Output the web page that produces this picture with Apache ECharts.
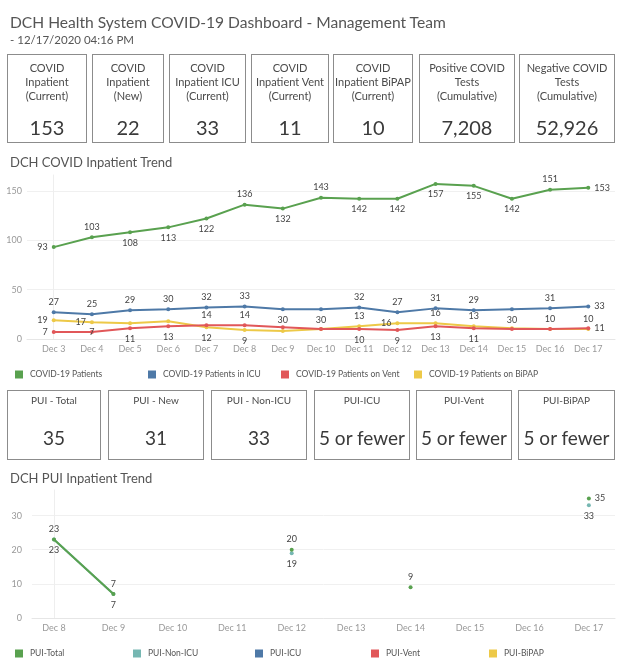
<!DOCTYPE html>
<html><head><meta charset="utf-8">
<script src="https://cdn.jsdelivr.net/npm/echarts@6/dist/echarts.min.js"></script>
<style>
html,body{margin:0;padding:0;background:#fff;}
#wrap{position:relative;width:624px;height:665px;overflow:hidden;font-family:Lato,'Open Sans',sans-serif;color:#555;}
#chart{position:absolute;left:0;top:0;width:624px;height:665px;}
.t{position:absolute;white-space:nowrap;}
.box{position:absolute;border:1px solid #8c8c8c;box-sizing:border-box;background:#fff;}
.box .lab{position:absolute;left:0;right:0;text-align:center;color:#4a4a4a;}
.box .val{position:absolute;left:0;right:0;text-align:center;color:#3a3a3a;}
</style></head>
<body><div id="wrap"><div id="chart"></div></div>
<script>
// ---------- data ----------
const pageTitle = 'DCH Health System COVID-19 Dashboard - Management Team';
const pageSubtitle = ' - 12/17/2020 04:16 PM';
const kpiLabels = [
  ['COVID','Inpatient','(Current)'],
  ['COVID','Inpatient','(New)'],
  ['COVID','Inpatient ICU','(Current)'],
  ['COVID','Inpatient Vent','(Current)'],
  ['COVID','Inpatient BiPAP','(Current)'],
  ['Positive COVID','Tests','(Cumulative)'],
  ['Negative COVID','Tests','(Cumulative)']
];
const kpiValues = ['153','22','33','11','10','7,208','52,926'];
const puiLabels = ['PUI - Total','PUI - New','PUI - Non-ICU','PUI-ICU','PUI-Vent','PUI-BiPAP'];
const puiValues = ['35','31','33','5 or fewer','5 or fewer','5 or fewer'];

const trendTitle = 'DCH COVID Inpatient Trend';
const trendDates = ['Dec 3','Dec 4','Dec 5','Dec 6','Dec 7','Dec 8','Dec 9','Dec 10','Dec 11','Dec 12','Dec 13','Dec 14','Dec 15','Dec 16','Dec 17'];
const trendNames = ['COVID-19 Patients','COVID-19 Patients in ICU','COVID-19 Patients on Vent','COVID-19 Patients on BiPAP'];
const covidPatients = [93,103,108,113,122,136,132,143,142,142,157,155,142,151,153];
const covidICU      = [27,25,29,30,32,33,30,30,32,27,31,29,30,31,33];
const covidVent     = [7,7,11,13,14,14,12,10,10,9,13,11,10,10,11];
const covidBiPAP    = [19,17,16,18,12,9,8,10,13,16,16,13,11,10,10];
const trendTicks = [0,50,100,150];

const puiTitle = 'DCH PUI Inpatient Trend';
const puiDates = ['Dec 8','Dec 9','Dec 10','Dec 11','Dec 12','Dec 13','Dec 14','Dec 15','Dec 16','Dec 17'];
const puiNames = ['PUI-Total','PUI-Non-ICU','PUI-ICU','PUI-Vent','PUI-BiPAP'];
const puiTotal  = [23,7,null,null,20,null,9,null,null,35];
const puiNonICU = [23,7,null,null,19,null,null,null,null,33];
const puiICU    = [null,null,null,null,null,null,null,null,null,null];
const puiVent   = [null,null,null,null,null,null,null,null,null,null];
const puiBiPAP  = [null,null,null,null,null,null,null,null,null,null];
const puiTicks = [0,10,20,30];

// ---------- label placement (style) ----------
const posPatients = ['left','top','bottom','bottom','bottom','top','bottom','top','bottom','bottom','bottom','bottom','bottom','top','right'];
const posICU      = ['top','top','top','top','top','top','bottom','bottom','top','top','top','top','bottom','top','right'];
const posVent     = ['left','inside','bottom','bottom','top','top','','','bottom','bottom','bottom','bottom','','','right'];
const posBiPAP    = ['left','left','','','bottom','bottom','','','top','left','top','top','','top','top'];
const posPuiTotal = ['top','top','','','top','','top','','','right'];
const posPuiNon   = ['bottom','bottom','','','bottom','','','','','bottom'];

const colors = {green:'#59a14f', blue:'#4e79a7', red:'#e15759', yellow:'#edc948', teal:'#76b7b2'};

// ---------- HTML text ----------
const wrap = document.getElementById('wrap');
function addText(txt, left, top, size, color, lh){
  const d = document.createElement('div'); d.className='t';
  d.textContent = txt; d.style.left=left+'px'; d.style.top=top+'px';
  d.style.fontSize=size+'px'; d.style.lineHeight=(lh||size+3)+'px'; d.style.color=color;
  wrap.appendChild(d); return d;
}
addText(pageTitle, 10, 12, 15.6, '#555', 20);
addText(pageSubtitle, 10, 33, 11.5, '#555', 14);
addText(trendTitle, 10, 154, 13, '#555', 16);
addText(puiTitle, 10, 470, 13, '#555', 16);

const kpiBoxes = [[7,87],[92,164],[169,246],[251,329],[333,413],[419,515],[519,615]];
kpiBoxes.forEach((b,i)=>{
  const d=document.createElement('div'); d.className='box';
  d.style.left=b[0]+'px'; d.style.width=(b[1]-b[0])+'px'; d.style.top='54px'; d.style.height='89px';
  const l=document.createElement('div'); l.className='lab';
  l.style.top='6px'; l.style.fontSize='11px'; l.style.lineHeight='14px';
  l.innerHTML = kpiLabels[i].map(s=>s.replace(/&/g,'&amp;')).join('<br>');
  const v=document.createElement('div'); v.className='val';
  v.style.top='60px'; v.style.fontSize='20px'; v.style.lineHeight='24px'; v.textContent=kpiValues[i];
  d.appendChild(l); d.appendChild(v); wrap.appendChild(d);
});
const puiBoxes = [[7,101],[108,204],[211,307],[314,410],[416,512],[518,615]];
puiBoxes.forEach((b,i)=>{
  const d=document.createElement('div'); d.className='box';
  d.style.left=b[0]+'px'; d.style.width=(b[1]-b[0])+'px'; d.style.top='390px'; d.style.height='70px';
  const l=document.createElement('div'); l.className='lab';
  l.style.top='2px'; l.style.fontSize='10px'; l.style.lineHeight='14px'; l.textContent=puiLabels[i];
  const v=document.createElement('div'); v.className='val';
  v.style.top='35px'; v.style.fontSize='19px'; v.style.lineHeight='24px'; v.textContent=puiValues[i];
  d.appendChild(l); d.appendChild(v); wrap.appendChild(d);
});

// ---------- chart ----------
const chart = echarts.init(document.getElementById('chart'), null, {renderer:'canvas'});
const ff = 'Lato, sans-serif';
function pts(arr, pos){
  return arr.map((v,i)=>{
    if (v===null) return [i,null];
    const p = pos[i];
    return {value:[i,v], label: p ? {show:true, position:p} : {show:false}};
  });
}
function lineSeries(name, arr, pos, color, xi, z){
  return {
    name, type:'line', xAxisIndex:xi, yAxisIndex:xi, data: pts(arr,pos),
    symbol:'circle', symbolSize:4, showSymbol:true, showAllSymbol:true, connectNulls:false,
    lineStyle:{color, width:2}, itemStyle:{color}, z: z||2,
    label:{show:true, color:'#444', fontSize:9, fontFamily:ff, distance:4,
      formatter: p => p.value[1]},
    emphasis:{disabled:true}, animation:false
  };
}
const trendIdx = trendDates.map((d,i)=>i);
const puiIdx = puiDates.map((d,i)=>i);
const axisLab = {color:'#999', fontSize:9, fontFamily:ff};

function legendItem(name, left, top, color){
  return {data:[{name, icon:'rect', itemStyle:{color}}], left, top, itemWidth:8, itemHeight:8,
    itemGap:4, selectedMode:false, textStyle:{color:'#555', fontSize:8.5, fontFamily:ff, padding:[0,0,0,2]}};
}

chart.setOption({
  animation:false,
  textStyle:{fontFamily:ff},
  grid:[
    {left:27, right:9, top:175, height:164},
    {left:32, right:9, top:490, height:128}
  ],
  xAxis:[
    {type:'value', gridIndex:0, min:-0.7, max:14.7,
      axisLine:{show:true, lineStyle:{color:'#e6e6e6'}}, axisTick:{show:false}, splitLine:{show:false},
      axisLabel:Object.assign({}, axisLab, {margin:6, customValues:trendIdx,
        formatter:v=>Number.isInteger(v)?trendDates[v]:''})},
    {type:'value', gridIndex:1, min:-0.37, max:9.44,
      axisLine:{show:true, lineStyle:{color:'#e6e6e6'}}, axisTick:{show:false}, splitLine:{show:false},
      axisLabel:Object.assign({}, axisLab, {margin:6, customValues:puiIdx,
        formatter:v=>Number.isInteger(v)?puiDates[v]:''})}
  ],
  yAxis:[
    {type:'value', gridIndex:0, min:0, max:166, interval:50,
      axisLine:{show:true, lineStyle:{color:'#eeeeee'}}, axisTick:{show:false},
      splitLine:{show:true, showMaxLine:false, lineStyle:{color:'#f0f0f0'}},
      axisLabel:Object.assign({}, axisLab, {margin:5, customValues:trendTicks,
        formatter:v=>trendTicks.indexOf(v)>=0?String(v):''})},
    {type:'value', gridIndex:1, min:0, max:37.5, interval:10,
      axisLine:{show:true, lineStyle:{color:'#eeeeee'}}, axisTick:{show:false},
      splitLine:{show:true, showMaxLine:false, lineStyle:{color:'#f0f0f0'}},
      axisLabel:Object.assign({}, axisLab, {margin:10, customValues:puiTicks,
        formatter:v=>puiTicks.indexOf(v)>=0?String(v):''})}
  ],
  legend:[
    legendItem(trendNames[0], 10, 365, colors.green),
    legendItem(trendNames[1], 143, 365, colors.blue),
    legendItem(trendNames[2], 276, 365, colors.red),
    legendItem(trendNames[3], 409, 365, colors.yellow),
    legendItem(puiNames[0], 10, 644, colors.green),
    legendItem(puiNames[1], 128, 644, colors.teal),
    legendItem(puiNames[2], 250, 644, colors.blue),
    legendItem(puiNames[3], 366, 644, colors.red),
    legendItem(puiNames[4], 484, 644, colors.yellow)
  ],
  series:[
    lineSeries(trendNames[3], covidBiPAP, posBiPAP, colors.yellow, 0, 2),
    lineSeries(trendNames[2], covidVent, posVent, colors.red, 0, 3),
    lineSeries(trendNames[1], covidICU, posICU, colors.blue, 0, 4),
    lineSeries(trendNames[0], covidPatients, posPatients, colors.green, 0, 5),
    lineSeries(puiNames[4], puiBiPAP, [], colors.yellow, 1, 2),
    lineSeries(puiNames[3], puiVent, [], colors.red, 1, 2),
    lineSeries(puiNames[2], puiICU, [], colors.blue, 1, 2),
    lineSeries(puiNames[1], puiNonICU, posPuiNon, colors.teal, 1, 3),
    lineSeries(puiNames[0], puiTotal, posPuiTotal, colors.green, 1, 4)
  ]
});
</script></body></html>
